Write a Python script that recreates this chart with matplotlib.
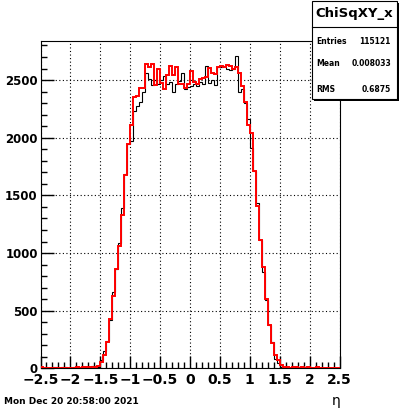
import numpy as np
import matplotlib
matplotlib.use("Agg")
import matplotlib.pyplot as plt
from matplotlib.patches import Rectangle
from matplotlib.lines import Line2D
from matplotlib.ticker import MultipleLocator

# ---------------- data ----------------
x_min, x_max, n_bins = -2.5, 2.5, 100
edges = np.linspace(x_min, x_max, n_bins + 1)

black_counts = [
    0, 3, 5, 3, 12, 8, 2, 10, 12, 5,
    3, 8, 6, 10, 12, 8, 15, 20, 25, 15,
    70, 150, 240, 420, 660, 865, 1085, 1390, 1690, 1950,
    1970, 2232, 2276, 2313, 2400, 2560, 2510, 2458, 2500, 2464,
    2500, 2536, 2470, 2480, 2400, 2470, 2490, 2565, 2420, 2440,
    2450, 2470, 2450, 2480, 2470, 2622, 2472, 2500, 2460, 2611,
    2610, 2620, 2600, 2590, 2600, 2705, 2400, 2420, 2300, 2160,
    1908, 1714, 1437, 1113, 838, 590, 376, 225, 78, 49,
    10, 14, 8, 5, 3, 10, 6, 4, 8, 3,
    5, 2, 6, 4, 3, 5, 2, 4, 3, 2,
]
red_counts = [
    15, 5, 3, 2, 5, 4, 3, 6, 5, 3,
    2, 5, 8, 6, 10, 8, 15, 12, 10, 20,
    58, 116, 225, 430, 625, 860, 1060, 1330, 1680, 1945,
    2110, 2350, 2360, 2430, 2430, 2640, 2617, 2640, 2458, 2597,
    2472, 2420, 2544, 2622, 2540, 2610, 2470, 2470, 2430, 2470,
    2582, 2480, 2470, 2510, 2520, 2530, 2602, 2559, 2555, 2610,
    2620, 2617, 2630, 2620, 2600, 2610, 2565, 2449, 2313, 2111,
    2038, 1714, 1408, 1113, 876, 598, 376, 217, 116, 72,
    29, 14, 10, 6, 12, 8, 5, 10, 6, 8,
    4, 6, 8, 5, 3, 6, 4, 5, 3, 2,
]
x_tick_labels = ["\u22122.5", "\u22122", "\u22121.5", "\u22121", "\u22120.5", "0", "0.5", "1", "1.5", "2", "2.5"]
y_ticks = [0, 500, 1000, 1500, 2000, 2500]
hist_name = "ChiSqXY_x"
stat_names = ["Entries", "Mean", "RMS"]
stat_values = ["115121", "0.008033", "0.6875"]
date_text = "Mon Dec 20 20:58:00 2021"
x_title = "\u03b7"

# ---------------- figure ----------------
W, H = 400, 409
fig = plt.figure(figsize=(W / 100, H / 100), dpi=100)
fig.patch.set_facecolor("white")

ax_l, ax_r, ax_t, ax_b = 40.5, 339.5, 41.0, 368.4
ax = fig.add_axes([ax_l / W, 1 - ax_b / H, (ax_r - ax_l) / W, (ax_b - ax_t) / H])

ax.stairs(black_counts, edges, color="black", linewidth=0.8, zorder=3)
ax.stairs(red_counts, edges, color="red", linewidth=1.4, zorder=4)

ax.set_xlim(x_min, x_max)
ax.set_ylim(0, 2839)

ax.xaxis.set_major_locator(MultipleLocator(0.5))
ax.xaxis.set_minor_locator(MultipleLocator(0.1))
ax.set_yticks(y_ticks)
ax.yaxis.set_minor_locator(MultipleLocator(100))
ax.set_xticks(np.arange(-2.5, 2.51, 0.5))
ax.set_xticklabels(x_tick_labels)

ax.tick_params(axis="both", which="both", direction="in", top=False, right=False, color="black")
ax.tick_params(axis="x", which="major", length=9, width=1, labelsize=10, pad=3)
ax.tick_params(axis="x", which="minor", length=4.5, width=1)
ax.tick_params(axis="y", which="major", length=9, width=1, labelsize=8.5, pad=2)
ax.tick_params(axis="y", which="minor", length=4.5, width=1)
for lab in ax.get_xticklabels() + ax.get_yticklabels():
    lab.set_fontweight("bold")

ax.grid(True, which="major", color="black", linestyle=(0, (1, 2.2)), linewidth=0.8)
ax.set_axisbelow(True)
for s in ax.spines.values():
    s.set_linewidth(0.8)

# ---------------- stat box ----------------
def fx(px):
    return px / W

def fy(py):
    return 1 - py / H

bx0, bx1, by0, by1, ydiv = 311.5, 396.5, 0.5, 98.5, 27.0
fig.patches.append(Rectangle((fx(bx0) + 2 / W, fy(by1) - 2 / H), (bx1 - bx0) / W, (by1 - by0) / H,
                             transform=fig.transFigure, facecolor="black", edgecolor="none", zorder=5))
fig.patches.append(Rectangle((fx(bx0), fy(by1)), (bx1 - bx0) / W, (by1 - by0) / H,
                             transform=fig.transFigure, facecolor="white", edgecolor="black",
                             linewidth=0.8, zorder=6))
fig.lines.append(Line2D([fx(bx0), fx(bx1)], [fy(ydiv), fy(ydiv)], transform=fig.transFigure,
                        color="black", linewidth=0.8, zorder=7))
fig.text(fx((bx0 + bx1) / 2), fy(14), hist_name, ha="center", va="center",
         fontsize=9.5, fontweight="bold", zorder=8)
row_y = [41.7, 63.5, 89.0]
for name, val, yy in zip(stat_names, stat_values, row_y):
    fig.text(fx(316), fy(yy), name, ha="left", va="center", fontsize=5.5, fontweight="bold", zorder=8)
    fig.text(fx(391), fy(yy), val, ha="right", va="center", fontsize=5.5, fontweight="bold", zorder=8)

# ---------------- bottom texts ----------------
fig.text(fx(4), fy(401.5), date_text, ha="left", va="center", fontsize=6.5, fontweight="bold")
fig.text(fx(336), fy(401), x_title, ha="center", va="center", fontsize=10)

fig.savefig("out.png", dpi=100)
